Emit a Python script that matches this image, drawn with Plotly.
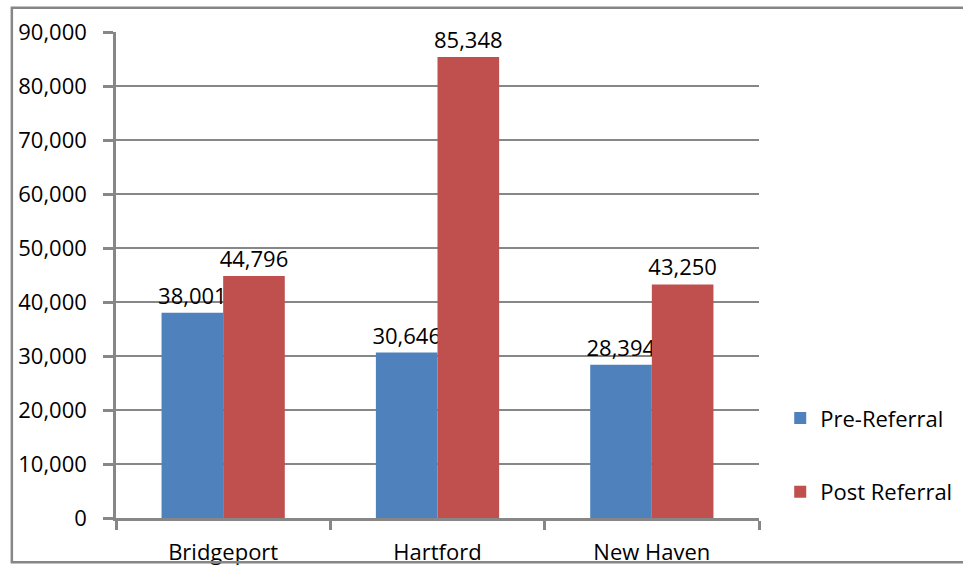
import plotly.graph_objects as go

# Average cost per case by city, before and after referral
cities = ["Bridgeport", "Hartford", "New Haven"]
pre_referral = [38001, 30646, 28394]
post_referral = [44796, 85348, 43250]
y_ticks = [0, 10000, 20000, 30000, 40000, 50000, 60000, 70000, 80000, 90000]

FONT = "Open Sans"
FS = 22
GRID = "#878787"

fig = go.Figure()
fig.add_trace(go.Bar(
    name="Pre-Referral", x=cities, y=pre_referral,
    marker=dict(color="#4F81BD", line=dict(width=0)),
    text=[f"{v:,}" for v in pre_referral], textposition="outside",
    constraintext="none",
    textfont=dict(family=FONT, size=FS, color="#000000"),
    cliponaxis=False, legendgroup="a",
))
fig.add_trace(go.Bar(
    name="Post Referral", x=cities, y=post_referral,
    marker=dict(color="#C0504D", line=dict(width=0)),
    text=[f"{v:,}" for v in post_referral], textposition="outside",
    constraintext="none",
    textfont=dict(family=FONT, size=FS, color="#000000"),
    cliponaxis=False, legendgroup="b",
))

# outer chart border
fig.add_shape(type="rect", xref="paper", yref="paper",
              x0=-0.162, x1=1.34, y0=-0.091, y1=1.05,
              line=dict(color="#868686", width=2.5), layer="above")

fig.update_layout(
    width=963, height=567,
    margin=dict(l=116, r=204, t=32, b=49, autoexpand=False),
    paper_bgcolor="white", plot_bgcolor="white",
    barmode="group", bargap=0.425, bargroupgap=0,
    font=dict(family=FONT, size=FS, color="#000000"),
    showlegend=True,
    legend=dict(x=1.033, xanchor="left", y=0.129, yanchor="middle",
                font=dict(family=FONT, size=FS, color="#000000"),
                traceorder="grouped", tracegroupgap=42,
                bgcolor="rgba(0,0,0,0)"),
    xaxis=dict(
        automargin=False,
        showline=True, linecolor=GRID, linewidth=2.5,
        ticks="outside", tickson="boundaries", ticklen=9, tickwidth=2.5, tickcolor=GRID,
        showgrid=False, ticklabelstandoff=13,
        tickfont=dict(family=FONT, size=FS, color="#000000"),
    ),
    yaxis=dict(
        automargin=False,
        range=[0, 90000], tickvals=y_ticks, tickformat=",",
        showline=True, linecolor=GRID, linewidth=2.5,
        ticks="outside", ticklen=10, tickwidth=2.5, tickcolor=GRID,
        showgrid=True, gridcolor=GRID, gridwidth=2,
        zeroline=False, ticklabelstandoff=12,
        tickfont=dict(family=FONT, size=FS, color="#000000"),
    ),
)

fig.write_html("out.html")
